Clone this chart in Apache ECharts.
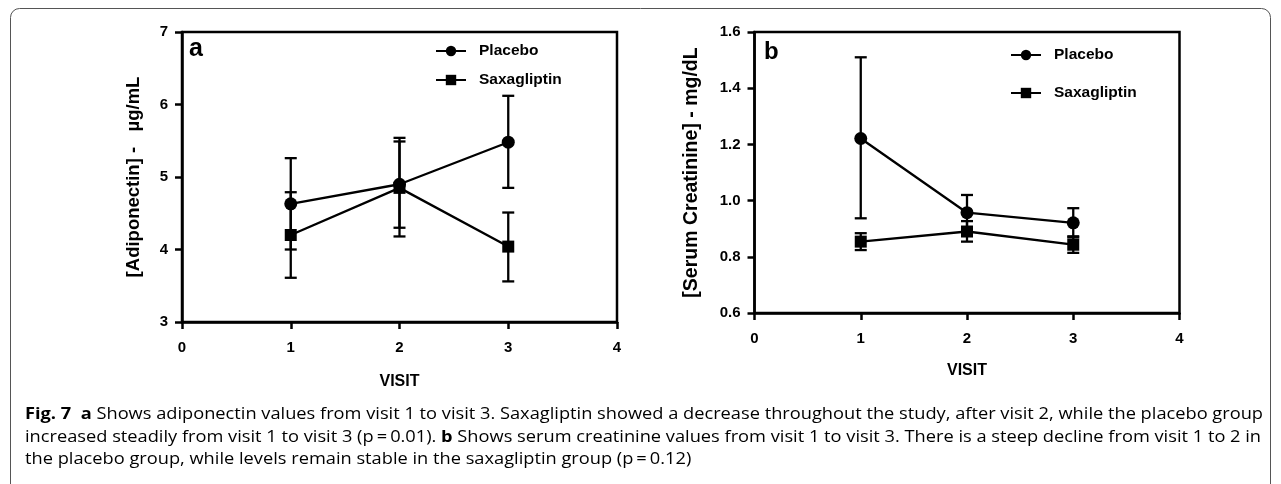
<!DOCTYPE html>
<html>
<head>
<meta charset="utf-8">
<script src="https://cdn.jsdelivr.net/npm/echarts@6/dist/echarts.min.js"></script>
<style>
html,body{margin:0;padding:0;background:#fff;}
#chart{width:1281px;height:484px;}
</style>
</head>
<body>
<div id="chart"></div>
<script>
// ---- data ----
const visits = [1, 2, 3];
const xTicks = [0, 1, 2, 3, 4];
// Panel a: Adiponectin (µg/mL)
const adipoPlacebo = [4.63, 4.90, 5.48];
const adipoPlaceboLow = [4.00, 4.30, 4.85];
const adipoPlaceboHigh = [5.26, 5.54, 6.12];
const adipoSaxa = [4.20, 4.85, 4.04];
const adipoSaxaLow = [3.61, 4.18, 3.56];
const adipoSaxaHigh = [4.79, 5.49, 4.51];
// Panel b: Serum creatinine (mg/dL)
const creatPlacebo = [1.221, 0.957, 0.921];
const creatPlaceboLow = [0.937, 0.894, 0.869];
const creatPlaceboHigh = [1.51, 1.02, 0.973];
const creatSaxa = [0.854, 0.890, 0.843];
const creatSaxaLow = [0.824, 0.854, 0.814];
const creatSaxaHigh = [0.884, 0.927, 0.873];

const seriesNames = ['Placebo', 'Saxagliptin'];
const captionLines = [
  [{t:'Fig. 7', s:'b'}, {t:'  '}, {t:'a', s:'b'}, {t:' Shows adiponectin values from visit 1 to visit 3. Saxagliptin showed a decrease throughout the study, after visit 2, while the placebo group'}],
  [{t:'increased steadily from visit 1 to visit 3 (p\u2009=\u20090.01). '}, {t:'b', s:'b'}, {t:' Shows serum creatinine values from visit 1 to visit 3. There is a steep decline from visit 1 to 2 in'}],
  [{t:'the placebo group, while levels remain stable in the saxagliptin group (p\u2009=\u20090.12)'}]
];

// ---- chart ----
const FONT = 'Liberation Sans, Arial, sans-serif';
const CAPFONT = '"Open Sans", sans-serif';
const CAPSIZE = 16;

function pts(xs, ys) { return xs.map((x, i) => [x, ys[i]]); }
function errData(xs, lo, hi) { return xs.map((x, i) => [x, lo[i], hi[i]]); }

function errRender(params, api) {
  const x = api.value(0);
  const lo = api.coord([x, api.value(1)]);
  const hi = api.coord([x, api.value(2)]);
  const hw = 6;
  const st = {stroke: '#000', lineWidth: 2.3};
  return {
    type: 'group',
    children: [
      {type: 'line', shape: {x1: lo[0], y1: lo[1], x2: hi[0], y2: hi[1]}, style: st},
      {type: 'line', shape: {x1: lo[0] - hw, y1: lo[1], x2: lo[0] + hw, y2: lo[1]}, style: st},
      {type: 'line', shape: {x1: hi[0] - hw, y1: hi[1], x2: hi[0] + hw, y2: hi[1]}, style: st}
    ]
  };
}

function xAxisCfg(gridIndex, nameGap) {
  return {
    type: 'value', gridIndex, min: 0, max: 4, interval: 1,
    name: 'VISIT', nameLocation: 'middle', nameGap,
    nameTextStyle: {fontFamily: FONT, fontWeight: 'bold', fontSize: 16, color: '#000'},
    axisLine: {show: true, onZero: false, lineStyle: {color: '#000', width: 2.5}},
    axisTick: {show: true, length: 7, lineStyle: {color: '#000', width: 2.5}},
    axisLabel: {margin: 18, fontFamily: FONT, fontWeight: 'bold', fontSize: 15, color: '#000'},
    splitLine: {show: false}
  };
}
function yAxisCfg(gridIndex, min, max, interval, name, nameGap, nameSize, decimals) {
  return {
    type: 'value', gridIndex, min, max, interval,
    name, nameLocation: 'middle', nameGap, nameRotate: 90,
    nameTextStyle: {fontFamily: FONT, fontWeight: 'bold', fontSize: nameSize, color: '#000'},
    axisLine: {show: true, lineStyle: {color: '#000', width: 2.5}},
    axisTick: {show: true, length: 7, lineStyle: {color: '#000', width: 2.5}},
    axisLabel: {margin: 14, fontFamily: FONT, fontWeight: 'bold', fontSize: 15, color: '#000',
      formatter: v => v.toFixed(decimals)},
    splitLine: {show: false}
  };
}
function lineSeries(name, data, xi, symbol) {
  return {
    type: 'line', name, data, xAxisIndex: xi, yAxisIndex: xi,
    symbol, symbolSize: symbol === 'circle' ? 13 : 12,
    itemStyle: {color: '#000'},
    lineStyle: {color: '#000', width: 2.3},
    z: 3, animation: false
  };
}
function errSeries(data, xi) {
  return {
    type: 'custom', data, xAxisIndex: xi, yAxisIndex: xi,
    renderItem: errRender, z: 2, animation: false, silent: true,
    encode: {x: 0, y: [1, 2]}
  };
}
function legendCfg(left, top, gap) {
  return {
    data: seriesNames, orient: 'vertical', left, top, itemGap: gap,
    itemWidth: 30, itemHeight: 13, selectedMode: false,
    textStyle: {fontFamily: FONT, fontWeight: 'bold', fontSize: 15.5, color: '#000', padding: [0, 0, 0, 8]}
  };
}

// caption: stretch horizontally to the figure's caption width
const measureCtx = document.createElement('canvas').getContext('2d');
function lineWidth(line) {
  let w = 0;
  line.forEach(p => {
    measureCtx.font = (p.s ? 'bold ' : '') + CAPSIZE + 'px ' + CAPFONT;
    w += measureCtx.measureText(p.t).width;
  });
  return w;
}
const capScale = 1238 / lineWidth(captionLines[0]);
const captionGraphics = captionLines.map((line, i) => ({
  type: 'text', x: 25, y: 406.5 + i * 22.5, scaleX: capScale,
  style: {
    text: line.map(p => p.s ? '{b|' + p.t + '}' : '{n|' + p.t + '}').join(''),
    rich: {
      n: {fontFamily: CAPFONT, fontSize: CAPSIZE, color: '#231f20'},
      b: {fontFamily: CAPFONT, fontSize: CAPSIZE, fontWeight: 'bold', color: '#231f20'}
    }
  }
}));

const chart = echarts.init(document.getElementById('chart'), null, {renderer: 'canvas'});
chart.setOption({
  animation: false,
  backgroundColor: '#fff',
  grid: [
    {left: 182, top: 32, width: 435, height: 290, show: true, borderColor: '#000', borderWidth: 2.5},
    {left: 754.5, top: 32, width: 425, height: 281, show: true, borderColor: '#000', borderWidth: 2.5}
  ],
  xAxis: [xAxisCfg(0, 52), xAxisCfg(1, 50)],
  yAxis: [
    yAxisCfg(0, 3, 7, 1, '[Adiponectin] -   \u00b5g/mL', 39, 18.5, 0),
    yAxisCfg(1, 0.6, 1.6, 0.2, '[Serum Creatinine] - mg/dL', 53, 19.5, 1)
  ],
  legend: [legendCfg(430, 38, 13), legendCfg(1005, 42, 22)],
  series: [
    errSeries(errData(visits, adipoPlaceboLow, adipoPlaceboHigh), 0),
    errSeries(errData(visits, adipoSaxaLow, adipoSaxaHigh), 0),
    lineSeries('Placebo', pts(visits, adipoPlacebo), 0, 'circle'),
    lineSeries('Saxagliptin', pts(visits, adipoSaxa), 0, 'rect'),
    errSeries(errData(visits, creatPlaceboLow, creatPlaceboHigh), 1),
    errSeries(errData(visits, creatSaxaLow, creatSaxaHigh), 1),
    lineSeries('Placebo', pts(visits, creatPlacebo), 1, 'circle'),
    lineSeries('Saxagliptin', pts(visits, creatSaxa), 1, 'rect')
  ],
  graphic: [
    {type: 'rect', shape: {x: 10.5, y: 8.5, width: 1260, height: 520, r: 9},
      style: {fill: 'none', stroke: '#555', lineWidth: 1}, z: -1},
    {type: 'text', left: 189, top: 37, style: {text: 'a', fontFamily: FONT, fontWeight: 'bold', fontSize: 25, fill: '#000'}},
    {type: 'text', left: 764, top: 40, style: {text: 'b', fontFamily: FONT, fontWeight: 'bold', fontSize: 24, fill: '#000'}}
  ].concat(captionGraphics)
});
</script>
</body>
</html>
